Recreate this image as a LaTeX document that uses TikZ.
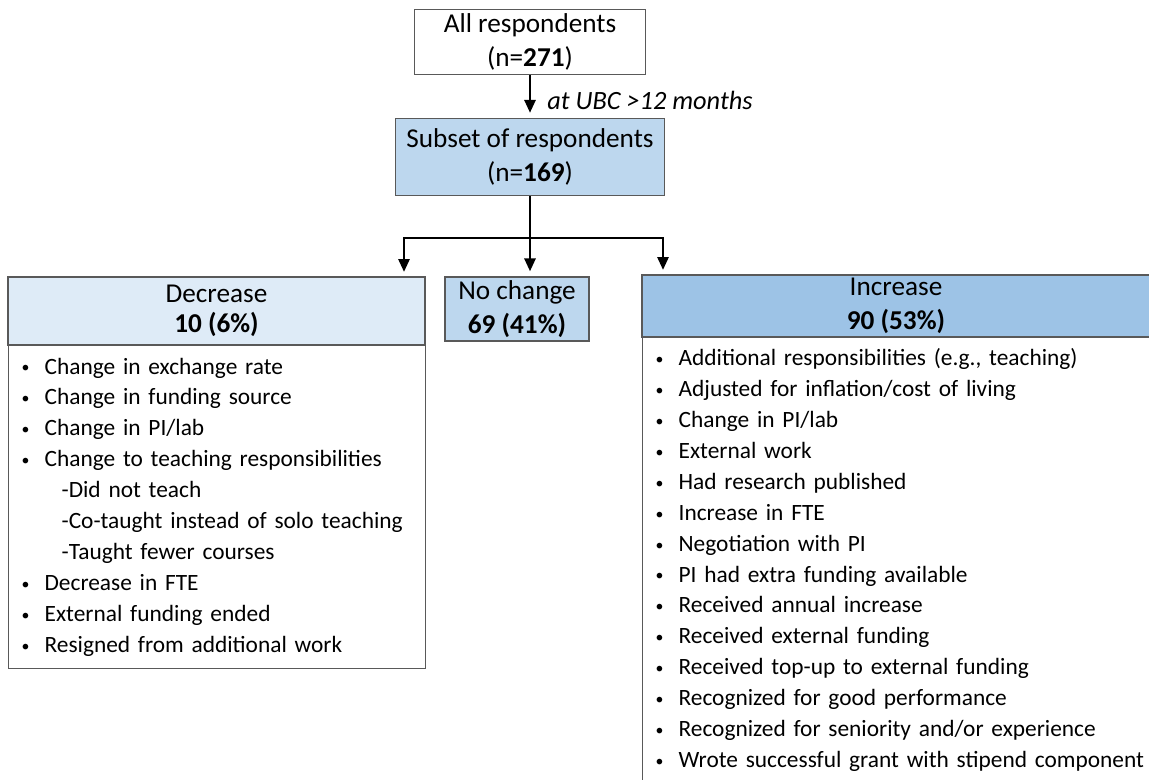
\documentclass[tikz,border=0pt]{standalone}
\usepackage{fontspec}
\setmainfont{Carlito}
\usetikzlibrary{positioning,arrows.meta}

\definecolor{lightblue}{HTML}{DEEBF7}
\definecolor{midblue}{HTML}{BDD7EE}
\definecolor{darkblue}{HTML}{9DC3E6}

\tikzset{
  box/.style={draw=black!65, line width=0.7pt, align=center, inner sep=0pt,
    font=\fontsize{15.5}{19}\selectfont},
  listbox/.style={draw=black!65, line width=0.7pt, align=left, anchor=north west,
    inner xsep=0.26cm, inner ysep=0.2cm, font=\fontsize{13.3}{17.6}\selectfont},
  arr/.style={-{Triangle[length=0.26cm,width=0.22cm]}, line width=1.6pt}
}
\newcommand{\itm}[1]{\mbox{\makebox[0.46cm][l]{\raisebox{0.1ex}{\small\textbullet}}#1}}
\newcommand{\sub}[1]{\mbox{\hspace*{0.8cm}#1}}

\begin{document}
\begin{tikzpicture}[x=0.02cm,y=-0.02cm]
\clip (0,0) rectangle (1149,780);

\node (allresp)[box, fill=white, minimum width=4.62cm, minimum height=1.3cm] at (530,42)
  {All respondents\\(n=\textbf{271})};
\node (subset)[box, fill=midblue, minimum width=5.38cm, minimum height=1.54cm] at (530,157)
  {Subset of respondents\\(n=\textbf{169})};

\node (decHead)[box, fill=lightblue, minimum width=8.34cm, minimum height=1.36cm] at (216.5,311)
  {Decrease\\[-2pt]\textbf{10 (6\%)}};
\node (decList)[listbox, minimum width=8.34cm, minimum height=6.46cm, text width=7.82cm] at (8,345)
  {\itm{Change in exchange rate}\\
   \itm{Change in funding source}\\
   \itm{Change in PI/lab}\\
   \itm{Change to teaching responsibilities}\\
   \sub{-Did not teach}\\
   \sub{-Co-taught instead of solo teaching}\\
   \sub{-Taught fewer courses}\\
   \itm{Decrease in FTE}\\
   \itm{External funding ended}\\
   \itm{Resigned from additional work}};

\node (nochange)[box, fill=midblue, minimum width=2.88cm, minimum height=1.28cm] at (517,309)
  {No change\\\textbf{69 (41\%)}};

\node (incHead)[box, fill=darkblue, minimum width=10.16cm, minimum height=1.24cm] at (896,306)
  {Increase\\\textbf{90 (53\%)}};
\node (incList)[listbox, minimum width=10.16cm, minimum height=8.9cm, text width=9.64cm,
  inner xsep=0.22cm, inner ysep=0.14cm] at (642,337)
  {\itm{Additional responsibilities (e.g., teaching)}\\
   \itm{Adjusted for inflation/cost of living}\\
   \itm{Change in PI/lab}\\
   \itm{External work}\\
   \itm{Had research published}\\
   \itm{Increase in FTE}\\
   \itm{Negotiation with PI}\\
   \itm{PI had extra funding available}\\
   \itm{Received annual increase}\\
   \itm{Received external funding}\\
   \itm{Received top-up to external funding}\\
   \itm{Recognized for good performance}\\
   \itm{Recognized for seniority and/or experience}\\
   \itm{Wrote successful grant with stipend component}};

% draw the connections
\coordinate (split) at (530,238);
\coordinate (decIn) at (404,272);
\coordinate (incIn) at (663,270);
\draw[arr, shorten >=0.1cm] (allresp) -- node[right=0.2cm, yshift=-0.08cm, font=\fontsize{15}{18}\itshape] {at UBC >12 months} (subset);
\draw[line width=1.6pt] (subset) -- (split);
\draw[arr] (split) -| (decIn);
\draw[arr, shorten >=0.1cm] (split) -- (split |- nochange.north);
\draw[arr] (split) -| (incIn);
\end{tikzpicture}
\end{document}
